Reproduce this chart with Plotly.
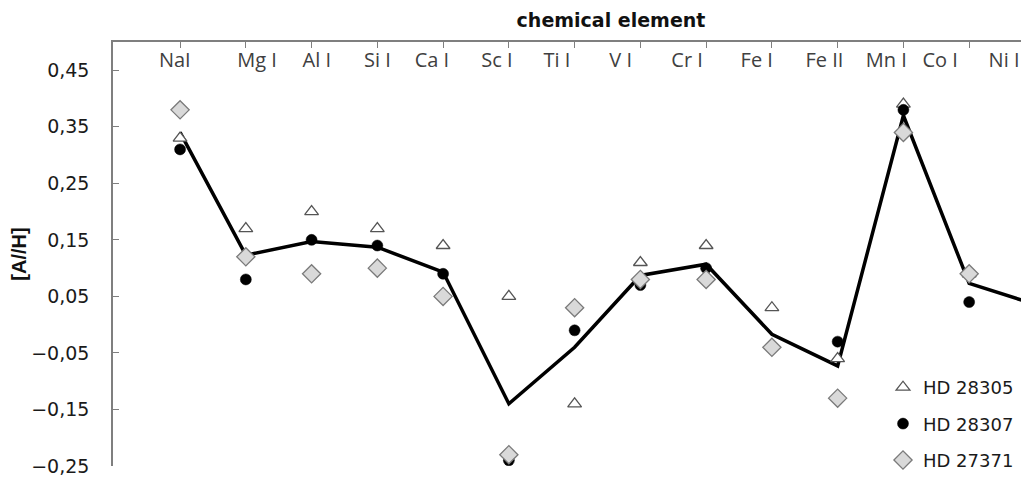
import plotly.graph_objects as go

# ---- data ----
elements = ["NaI", "Mg I", "Al I", "Si I", "Ca I", "Sc I", "Ti I", "V I",
            "Cr I", "Fe I", "Fe II", "Mn I", "Co I", "Ni I"]
hd28305 = [0.33, 0.17, 0.20, 0.17, 0.14, 0.05, -0.14, 0.11, 0.14, 0.03, -0.06, 0.39, 0.09, None]
hd28307 = [0.31, 0.08, 0.15, 0.14, 0.09, -0.24, -0.01, 0.07, 0.10, -0.04, -0.03, 0.38, 0.04, None]
hd27371 = [0.38, 0.12, 0.09, 0.10, 0.05, -0.23, 0.03, 0.08, 0.08, -0.04, -0.13, 0.34, 0.09, None]
mean_line = [0.34, 0.123, 0.147, 0.137, 0.093, -0.14, -0.04, 0.087, 0.107, -0.017, -0.073, 0.37, 0.073, 0.036]
y_ticks = [-0.25, -0.15, -0.05, 0.05, 0.15, 0.25, 0.35, 0.45]

# ---- style ----
# the page body has an 8px default margin, so the figure is laid out 8px smaller
OFF = 8
W, H = 1029 - OFF, 479 - OFF
PLOT_L, PLOT_T, PLOT_B = 113 - OFF, 42 - OFF, 467 - OFF
PLOT_H = PLOT_B - PLOT_T

LABEL_SHIFT = [-0.08, 0.17, 0.08, 0.0, -0.17, -0.18, -0.27, -0.30, -0.29, -0.23, -0.20, -0.26, -0.44, -0.47]
xpos = list(range(len(elements)))
label_pos = [p + s for p, s in zip(xpos, LABEL_SHIFT)]
XRANGE = [-1.02, 12.91]
YRANGE = [-0.25, 0.5]
AXIS_GREY = "#7f7f7f"

fig = go.Figure()

fig.add_trace(go.Scatter(
    x=xpos, y=mean_line, mode="lines",
    line=dict(color="black", width=3.5),
    showlegend=False, hoverinfo="skip"))

fig.add_trace(go.Scatter(
    x=xpos, y=hd28305, mode="markers", name="HD 28305",
    marker=dict(symbol="triangle-up", size=12, color="white",
                line=dict(color="#555555", width=1.3)),
    legendgroup="a"))

fig.add_trace(go.Scatter(
    x=xpos, y=hd28307, mode="markers", name="HD 28307",
    marker=dict(symbol="circle", size=11, color="black",
                line=dict(color="black", width=0.5)),
    legendgroup="b"))

fig.add_trace(go.Scatter(
    x=xpos, y=hd27371, mode="markers", name="HD 27371",
    marker=dict(symbol="diamond", size=14, color="#d9d9d9",
                line=dict(color="#7a7a7a", width=1.3)),
    legendgroup="c"))

# helper trace so the label axis is drawn
fig.add_trace(go.Scatter(x=[None], y=[None], xaxis="x2", showlegend=False, hoverinfo="skip"))

fig.update_layout(
    width=W, height=H,
    margin=dict(l=PLOT_L, r=0, t=PLOT_T, b=H - PLOT_B),
    paper_bgcolor="white", plot_bgcolor="white",
    separators=",.",
    font=dict(family="DejaVu Sans", size=18, color="#1a1a1a"),
    title=dict(text="<b>chemical element</b>", x=(611 - OFF) / W, xanchor="center",
               y=1 - (20 - OFF) / H, yanchor="middle",
               font=dict(family="DejaVu Sans", size=19, color="#111111")),
    xaxis=dict(
        side="top", range=XRANGE, showgrid=False, zeroline=False, automargin=False,
        showline=True, linecolor=AXIS_GREY, linewidth=1.5,
        tickmode="array", tickvals=xpos, ticks="inside", ticklen=6,
        tickcolor=AXIS_GREY, tickwidth=1.2, showticklabels=False),
    xaxis2=dict(
        overlaying="x", side="top", anchor="free", position=(PLOT_B - (71 - OFF)) / PLOT_H,
        range=XRANGE, showgrid=False, zeroline=False, automargin=False,
        showline=False, tickmode="array", tickvals=label_pos, ticktext=elements,
        ticks="", ticklabelstandoff=0,
        tickfont=dict(family="Open Sans", size=20, color="#404040")),
    yaxis=dict(
        range=YRANGE, showgrid=False, zeroline=False, automargin=False,
        showline=True, linecolor=AXIS_GREY, linewidth=1.5,
        tickmode="array", tickvals=y_ticks, tickformat=".2f",
        ticks="inside", ticklen=6, tickcolor=AXIS_GREY, tickwidth=1.2,
        ticklabelstandoff=18,
        tickfont=dict(family="DejaVu Sans", size=19, color="#1a1a1a"),
        title=dict(text="<b>[A//H]</b>", standoff=4,
                   font=dict(family="Liberation Sans", size=20, color="#111111"))),
    legend=dict(
        x=(875 - PLOT_L) / (W - PLOT_L),
        y=(PLOT_B - 362) / PLOT_H, xanchor="left", yanchor="top",
        bgcolor="rgba(0,0,0,0)", tracegroupgap=10, itemwidth=30,
        font=dict(family="DejaVu Sans", size=18, color="#1a1a1a")),
)

fig.write_html("out.html")
